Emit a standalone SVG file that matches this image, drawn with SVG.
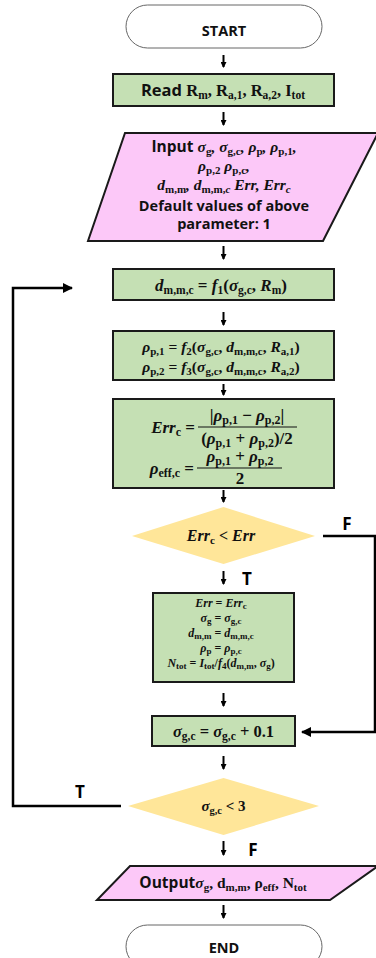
<svg xmlns="http://www.w3.org/2000/svg" width="376" height="958" viewBox="0 0 376 958">
<style>
.term{fill:#fff;stroke:#666;stroke-width:1}
.proc{fill:#c5e0b4;stroke:#1a1a1a;stroke-width:2}
.io{fill:#fcc8f8;stroke:#1a1a1a;stroke-width:2}
.dec{fill:#ffe699;stroke:none}
.sans{font-family:"Open Sans","Noto Sans","Liberation Sans",sans-serif;font-weight:bold;fill:#111}
.m{font-family:"Liberation Serif","DejaVu Serif",serif;font-weight:bold;font-style:italic;fill:#111}
.r{font-style:normal}
.con{fill:none;stroke:#000;stroke-width:2.5}
.arr{fill:none;stroke:#000;stroke-width:2}
.lbl{font-family:"Open Sans","Noto Sans","Liberation Sans",sans-serif;font-weight:bold;font-size:17px;fill:#000}
</style>
<defs>
<marker id="ah" markerWidth="6" markerHeight="6" refX="5" refY="3" orient="auto" markerUnits="userSpaceOnUse"><path d="M0,0 L6,3 L0,6 z" fill="#000"/></marker>
<marker id="ah2" markerWidth="10" markerHeight="10" refX="9" refY="5" orient="auto" markerUnits="userSpaceOnUse"><path d="M0,0 L10,5 L0,10 z" fill="#000"/></marker>
</defs>

<g id="start">
<rect class="term" x="126" y="5" width="196" height="43" rx="21.5"/>
<text class="sans" x="224" y="36" font-size="14.5" text-anchor="middle">START</text>
</g>

<g id="read">
<rect class="proc" x="113" y="74" width="221" height="32"/>
<text x="223" y="96" font-size="16.5" text-anchor="middle"><tspan class="sans">Read </tspan><tspan class="m r">R<tspan font-size="11.5" dy="3">m</tspan><tspan dy="-3">, R</tspan><tspan font-size="11.5" dy="3">a,1</tspan><tspan dy="-3">, R</tspan><tspan font-size="11.5" dy="3">a,2</tspan><tspan dy="-3">, I</tspan><tspan font-size="11.5" dy="3">tot</tspan></tspan></text>
</g>

<g id="input">
<polygon class="io" points="125,133 378,133 323,241 88,241"/>
<text x="224" y="152" font-size="15.5" text-anchor="middle"><tspan class="sans">Input </tspan><tspan class="m">σ<tspan class="r" font-size="11" dy="3">g</tspan><tspan dy="-3">, σ</tspan><tspan class="r" font-size="11" dy="3">g,c</tspan><tspan dy="-3">, ρ</tspan><tspan class="r" font-size="11" dy="3">p</tspan><tspan dy="-3">, ρ</tspan><tspan class="r" font-size="11" dy="3">p,1</tspan><tspan dy="-3">,</tspan></tspan></text>
<text x="224" y="171" font-size="15.5" text-anchor="middle" class="m">ρ<tspan class="r" font-size="11" dy="3">p,2</tspan><tspan dy="-3"> ρ</tspan><tspan class="r" font-size="11" dy="3">p,c</tspan><tspan dy="-3">,</tspan></text>
<text x="224" y="190" font-size="15.5" text-anchor="middle" class="m">d<tspan class="r" font-size="11" dy="3">m,m</tspan><tspan dy="-3">, d</tspan><tspan font-size="11" dy="3"><tspan class="r">m,m,</tspan>c</tspan><tspan dy="-3"> Err, Err</tspan><tspan font-size="11" dy="3">c</tspan></text>
<text class="sans" x="224" y="211" font-size="14.5" text-anchor="middle">Default values of above</text>
<text class="sans" x="224" y="229" font-size="14.5" text-anchor="middle">parameter: 1</text>
</g>

<g id="dcalc">
<rect class="proc" x="113" y="269" width="221" height="31"/>
<text x="221" y="291" font-size="17" text-anchor="middle" class="m">d<tspan class="r" font-size="11.5" dy="3">m,m,c</tspan><tspan class="r" dy="-3"> = </tspan>f<tspan class="r" font-size="11.5" dy="3">1</tspan><tspan class="r" dy="-3">(</tspan>σ<tspan class="r" font-size="11.5" dy="3">g,c</tspan><tspan class="r" dy="-3">, </tspan>R<tspan class="r" font-size="11.5" dy="3">m</tspan><tspan class="r" dy="-3">)</tspan></text>
</g>

<g id="rhocalc">
<rect class="proc" x="113" y="331" width="221" height="49"/>
<text x="221" y="352" font-size="15.5" text-anchor="middle" class="m">ρ<tspan class="r" font-size="11" dy="3">p,1</tspan><tspan class="r" dy="-3"> = </tspan>f<tspan class="r" font-size="11" dy="3">2</tspan><tspan class="r" dy="-3">(</tspan>σ<tspan class="r" font-size="11" dy="3">g,c</tspan><tspan class="r" dy="-3">, </tspan>d<tspan class="r" font-size="11" dy="3">m,m,c</tspan><tspan class="r" dy="-3">, </tspan>R<tspan class="r" font-size="11" dy="3">a,1</tspan><tspan class="r" dy="-3">)</tspan></text>
<text x="221" y="372" font-size="15.5" text-anchor="middle" class="m">ρ<tspan class="r" font-size="11" dy="3">p,2</tspan><tspan class="r" dy="-3"> = </tspan>f<tspan class="r" font-size="11" dy="3">3</tspan><tspan class="r" dy="-3">(</tspan>σ<tspan class="r" font-size="11" dy="3">g,c</tspan><tspan class="r" dy="-3">, </tspan>d<tspan class="r" font-size="11" dy="3">m,m,c</tspan><tspan class="r" dy="-3">, </tspan>R<tspan class="r" font-size="11" dy="3">a,2</tspan><tspan class="r" dy="-3">)</tspan></text>
</g>

<g id="errcalc">
<rect class="proc" x="113" y="399" width="221" height="89"/>
<text x="195" y="433" font-size="17" text-anchor="end" class="m">Err<tspan class="r" font-size="12" dy="3">c</tspan><tspan class="r" dy="-3"> =</tspan></text>
<text x="247" y="421" font-size="17" text-anchor="middle" class="m"><tspan class="r">|</tspan>ρ<tspan class="r" font-size="12" dy="3">p,1</tspan><tspan class="r" dy="-3"> − </tspan>ρ<tspan class="r" font-size="12" dy="3">p,2</tspan><tspan class="r" dy="-3">|</tspan></text>
<line x1="198" y1="427" x2="297" y2="427" stroke="#111" stroke-width="1.2"/>
<text x="247" y="444" font-size="17" text-anchor="middle" class="m"><tspan class="r">(</tspan>ρ<tspan class="r" font-size="12" dy="3">p,1</tspan><tspan class="r" dy="-3"> + </tspan>ρ<tspan class="r" font-size="12" dy="3">p,2</tspan><tspan class="r" dy="-3">)/2</tspan></text>
<text x="194" y="474" font-size="17" text-anchor="end" class="m">ρ<tspan class="r" font-size="12" dy="3">eff,c</tspan><tspan class="r" dy="-3"> =</tspan></text>
<text x="240" y="462" font-size="17" text-anchor="middle" class="m">ρ<tspan class="r" font-size="12" dy="3">p,1</tspan><tspan class="r" dy="-3"> + </tspan>ρ<tspan class="r" font-size="12" dy="3">p,2</tspan></text>
<line x1="197" y1="468" x2="282" y2="468" stroke="#111" stroke-width="1.2"/>
<text x="240" y="484" font-size="17" text-anchor="middle" class="m r">2</text>
</g>

<g id="dec1">
<polygon class="dec" points="132,536 223.5,507 315,536 223.5,564"/>
<text x="221" y="541" font-size="16" text-anchor="middle" class="m">Err<tspan class="r" font-size="11" dy="3">c</tspan><tspan class="r" dy="-3"> &lt; </tspan>Err</text>
</g>

<g id="assign">
<rect class="proc" x="153" y="593" width="141" height="89"/>
<text x="221" y="607" font-size="12" text-anchor="middle" class="m">Err<tspan class="r"> = </tspan>Err<tspan class="r" font-size="9" dy="2">c</tspan></text>
<text x="221" y="622" font-size="12" text-anchor="middle" class="m">σ<tspan class="r" font-size="9" dy="2">g</tspan><tspan class="r" dy="-2"> = </tspan>σ<tspan class="r" font-size="9" dy="2">g,c</tspan></text>
<text x="221" y="637" font-size="12" text-anchor="middle" class="m">d<tspan class="r" font-size="9" dy="2">m,m</tspan><tspan class="r" dy="-2"> = </tspan>d<tspan class="r" font-size="9" dy="2">m,m,c</tspan></text>
<text x="221" y="652" font-size="12" text-anchor="middle" class="m">ρ<tspan class="r" font-size="9" dy="2">p</tspan><tspan class="r" dy="-2"> = </tspan>ρ<tspan class="r" font-size="9" dy="2">p,c</tspan></text>
<text x="221" y="667" font-size="12" text-anchor="middle" class="m">N<tspan class="r" font-size="9" dy="2">tot</tspan><tspan class="r" dy="-2"> = </tspan>I<tspan class="r" font-size="9" dy="2">tot</tspan><tspan class="r" dy="-2">/</tspan>f<tspan class="r" font-size="9" dy="2">4</tspan><tspan class="r" dy="-2">(</tspan>d<tspan class="r" font-size="9" dy="2">m,m</tspan><tspan class="r" dy="-2">, </tspan>σ<tspan class="r" font-size="9" dy="2">g</tspan><tspan class="r" dy="-2">)</tspan></text>
</g>

<g id="incr">
<rect class="proc" x="152" y="716" width="143" height="30"/>
<text x="223.5" y="737" font-size="16.5" text-anchor="middle" class="m">σ<tspan class="r" font-size="11.5" dy="3">g,c</tspan><tspan class="r" dy="-3"> = </tspan>σ<tspan class="r" font-size="11.5" dy="3">g,c</tspan><tspan class="r" dy="-3"> + 0.1</tspan></text>
</g>

<g id="dec2">
<polygon class="dec" points="128,806 223.5,778 319,806 223.5,835"/>
<text x="223.5" y="811" font-size="15" text-anchor="middle" class="m">σ<tspan class="r" font-size="10.5" dy="3">g,c</tspan><tspan class="r" dy="-3"> &lt; 3</tspan></text>
</g>

<g id="output">
<polygon class="io" points="130,866 378,866 330,900 97,900"/>
<text x="223" y="888" font-size="15.5" text-anchor="middle"><tspan class="sans">Output</tspan><tspan class="m">σ<tspan class="r" font-size="11" dy="3">g</tspan><tspan class="r" dy="-3">, d</tspan><tspan class="r" font-size="11" dy="3">m,m</tspan><tspan class="r" dy="-3">, ρ</tspan><tspan class="r" font-size="11" dy="3">eff</tspan><tspan class="r" dy="-3">, N</tspan><tspan class="r" font-size="11" dy="3">tot</tspan></tspan></text>
</g>

<g id="end">
<rect class="term" x="126" y="925" width="196" height="43" rx="21.5"/>
<text class="sans" x="224" y="953" font-size="14.5" text-anchor="middle">END</text>
</g>

<g id="connectors">
<line class="arr" x1="223.5" y1="55" x2="223.5" y2="67" marker-end="url(#ah)"/>
<line class="arr" x1="223.5" y1="112" x2="223.5" y2="125" marker-end="url(#ah)"/>
<line class="arr" x1="223.5" y1="246" x2="223.5" y2="259" marker-end="url(#ah)"/>
<line class="arr" x1="223.5" y1="312" x2="223.5" y2="325" marker-end="url(#ah)"/>
<line class="arr" x1="223.5" y1="384" x2="223.5" y2="395" marker-end="url(#ah)"/>
<line class="arr" x1="223.5" y1="490" x2="223.5" y2="502" marker-end="url(#ah)"/>
<line class="arr" x1="223.5" y1="571" x2="223.5" y2="584" marker-end="url(#ah)"/>
<line class="arr" x1="223.5" y1="693" x2="223.5" y2="706" marker-end="url(#ah)"/>
<line class="arr" x1="223.5" y1="756" x2="223.5" y2="769" marker-end="url(#ah)"/>
<line class="arr" x1="223.5" y1="841" x2="223.5" y2="855" marker-end="url(#ah)"/>
<line class="arr" x1="223.5" y1="905" x2="223.5" y2="918" marker-end="url(#ah)"/>
<polyline class="con" points="121,806 13,806 13,288 72,288" marker-end="url(#ah2)"/>
<polyline class="con" points="323,536 375,536 375,732 302,732" marker-end="url(#ah2)"/>
<text class="lbl" x="347" y="530" text-anchor="middle">F</text>
<text class="lbl" x="247" y="585" text-anchor="middle">T</text>
<text class="lbl" x="80" y="798" text-anchor="middle">T</text>
<text class="lbl" x="253" y="856" text-anchor="middle">F</text>
</g>
</svg>
